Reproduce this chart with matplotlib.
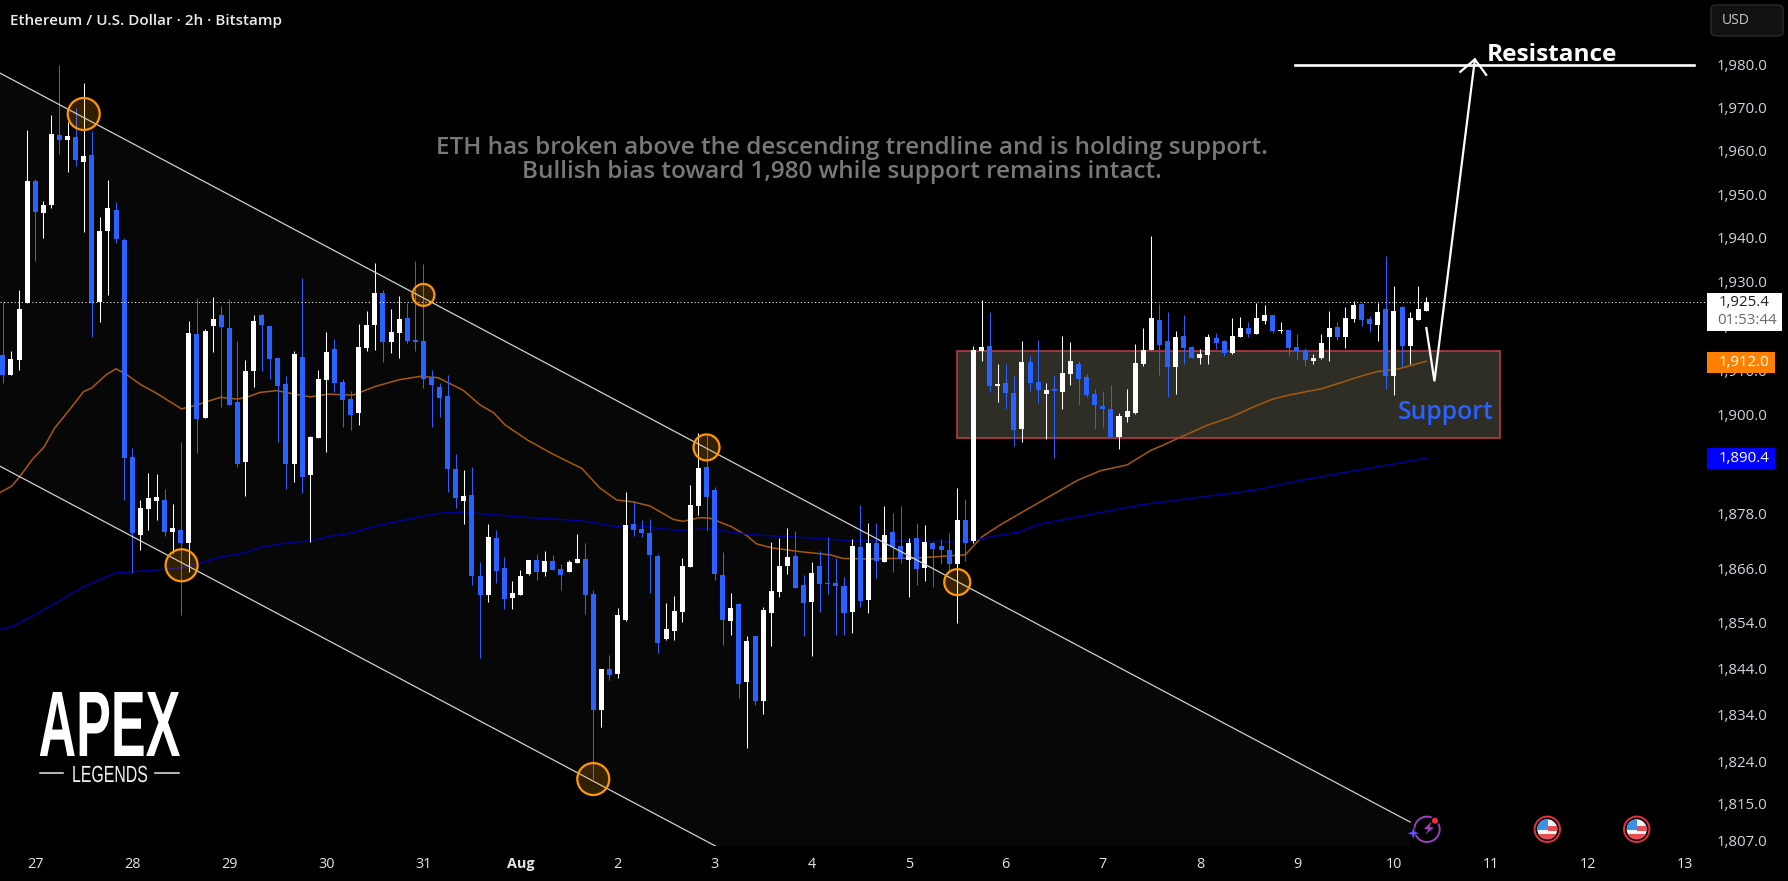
import numpy as np
import matplotlib
matplotlib.use('Agg')
import matplotlib.pyplot as plt
import matplotlib.patheffects as pe
from matplotlib.patches import Circle, Rectangle, Polygon, FancyBboxPatch
from matplotlib.transforms import Affine2D

# ETH/USD 2h candles
opens = [1913.5,1909,1912.3,1925.2,1953,1945.7,1947.6,1963.7,1962.5,1963.2,
         1957.4,1959,1925.3,1941.6,1946.4,1939.6,1890.5,1873.2,1879,1880.8,
         1881,1874,1874.4,1871.5,1918.2,1899.3,1920,1922.5,1919.5,1902.9,
         1889.4,1909.9,1922.5,1920,1912.8,1906.9,1889,1913,1886.5,1894.8,
         1907.8,1914.8,1907.3,1903.5,1900.4,1915,1920.2,1927.5,1916.4,1918.4,
         1921.8,1916.8,1916.6,1908.4,1906.2,1904.2,1887.8,1880.8,1882.1,1864.2,
         1860.1,1872.7,1866,1859.4,1860.1,1864.7,1867.8,1865.1,1867.6,1865.8,
         1865.1,1867.1,1868,1860.3,1835.1,1843.9,1842.9,1854.6,1875.7,1874.6,
         1873.7,1868.7,1850.5,1852.2,1856.4,1866.2,1879.7,1888.3,1883.2,1864.5,
         1854.4,1858.1,1841.1,1851.1,1837.1,1856.1,1860.8,1866.5,1868.7,1862.2,
         1858.5,1866.5,1862.8,1862.8,1862,1856.4,1870.7,1859,1871.5,1867.3,
         1873.9,1870.9,1867.8,1872.6,1866,1871.5,1870.9,1870,1866.9,1876.6,
         1872,1914.4,1915.5,1906.4,1907.1,1904.9,1896.8,1911.9,1907.3,1904.6,
         1905.8,1905.1,1909.2,1911.4,1908.4,1904.6,1901.9,1901.3,1895,1899.5,
         1900.4,1911.4,1914.6,1921.3,1916.6,1910.7,1917.7,1915.3,1912.8,1913.5,
         1917.2,1916.6,1913.9,1917.5,1919.5,1918.2,1921.1,1922.5,1918.9,1919.1,
         1915.3,1914.6,1912.1,1912.8,1917.5,1919.8,1917.5,1921.6,1925,1921.6,
         1920.2,1923.9,1908.7,1924.3,1915.5,1921.3,1923.4]
closes = [1908.8,1912.6,1923.9,1953,1945.9,1947.6,1963.9,1962.5,1963.4,1957.9,
          1958.8,1925.2,1941.6,1946.9,1939.8,1890.4,1873.7,1879.2,1881.4,1881.6,
          1874,1874.8,1871.5,1918.4,1899,1918.9,1921.6,1919.8,1902.2,1889,
          1909.9,1921.1,1920.2,1912.5,1906.4,1889,1913.7,1886,1895,1908,
          1914.1,1907.1,1903.3,1899.9,1915.3,1920.2,1927.5,1916.4,1918.6,1921.6,
          1916.6,1916.4,1908,1906.6,1903.8,1887.8,1881.4,1881.9,1864.2,1860.1,
          1872.9,1865.4,1859.2,1860.5,1864.2,1867.8,1865.1,1867.6,1865.6,1864.5,
          1867.3,1868,1860.1,1835.1,1843.9,1842.7,1855.7,1875.5,1874.4,1873.7,
          1868.9,1849.6,1852.6,1856.6,1866.5,1879.9,1888,1881.7,1864.7,1854.6,
          1857.3,1840.7,1850,1836.9,1856.8,1861,1866.5,1868.5,1861.6,1858.3,
          1864.9,1862.5,1862.5,1862,1856.1,1870.9,1858.8,1871.5,1867.6,1873.3,
          1870.7,1868,1871.5,1865.8,1871.7,1870.2,1870,1866.9,1876.6,1871.5,
          1914.6,1915.3,1906.4,1906.9,1904.9,1896.5,1911.9,1907.1,1905.5,1905.5,
          1905.3,1909.4,1912.1,1908,1904.4,1902.2,1901.3,1895,1899.7,1900.8,
          1911.6,1914.6,1921.8,1915.7,1910.7,1917.5,1915,1912.8,1913.7,1917.5,
          1916.2,1913.9,1917.7,1919.5,1918.2,1921.8,1922.5,1918.9,1919.1,1915,
          1914.4,1912.3,1912.8,1916.2,1919.5,1917.5,1921.8,1924.8,1921.3,1920.4,
          1923.2,1908.7,1923.4,1915.5,1921.8,1923.7,1925.4]
highs = [1925.5,1914.4,1928,1964.8,1953.5,1948.5,1968.3,1979.9,1966.7,1969.9,
         1975.7,1964.6,1944.8,1953.3,1948.2,1939.9,1892.5,1881,1887.1,1886.8,
         1883.4,1880.1,1893.9,1921.1,1926.4,1919.3,1926.6,1924.5,1926.1,1916.6,
         1912.3,1922.5,1922.7,1920,1912.8,1908.7,1914.4,1930.9,1895.2,1910.1,
         1918.6,1917,1908,1905.3,1920.4,1923.4,1934.3,1928,1923.9,1926.8,
         1925.2,1934.8,1934.1,1910.1,1907.2,1909,1891.2,1887.6,1888.3,1867.3,
         1875.7,1874.4,1868.4,1863.2,1865.6,1867.8,1869.1,1869.8,1868.9,1866.9,
         1867.8,1873.5,1871.5,1861.2,1843.9,1847,1857.3,1882.8,1880.6,1876.6,
         1876.8,1869.1,1858.3,1859.9,1868.2,1884.3,1895.9,1895.5,1883.8,1869.6,
         1860.5,1858.3,1851.1,1851.1,1857.5,1871.7,1872.6,1874.8,1874.2,1864.5,
         1867.3,1869.8,1872.9,1868.2,1864,1872.4,1879.9,1875.9,1875.9,1879.7,
         1878.1,1879.7,1872.6,1875.9,1875.5,1871.7,1872.4,1873.7,1883.6,1881.2,
         1915.5,1925.9,1923.2,1911.4,1911.4,1908.7,1916.6,1913.2,1916.8,1907.1,
         1909,1917.7,1916.4,1912.1,1909.2,1905.8,1905.3,1906.6,1900.4,1905.8,
         1915.9,1919.5,1940.5,1925,1923.2,1918.9,1922.5,1915.5,1914.8,1918.2,
         1918.4,1916.8,1921.8,1922,1920.9,1925.2,1924.8,1922.5,1920.9,1919.1,
         1918.2,1915,1913.7,1918.2,1923.4,1920.9,1924.3,1925.7,1925.2,1922.3,
         1925.2,1935.9,1929.1,1924.5,1923.2,1929.1,1926.6]
lows = [1907.2,1909,1910.1,1925.2,1934.6,1939.9,1946.9,1959.3,1955.1,1956.5,
        1941.4,1917.5,1920.9,1927,1938.9,1881,1865,1870,1874.4,1876.6,
        1873,1869.3,1855.7,1865.2,1891.4,1899.3,1914.1,1901.7,1902.2,1888.3,
        1881.9,1906.2,1909.7,1908,1893.9,1883.4,1885,1882.6,1871.7,1894.8,
        1891.7,1905.1,1897.2,1896.5,1897.7,1914.4,1914.6,1911.9,1913.9,1912.8,
        1916,1914.4,1906,1897.2,1899.5,1882.8,1879.2,1875.7,1862.2,1846.4,
        1858.6,1862.8,1857,1857,1860.1,1864.5,1863.4,1864.2,1865.6,1861.2,
        1865.1,1867.1,1855.9,1820.2,1831.4,1841.6,1842,1854.4,1873.1,1872.9,
        1860.5,1847.4,1850.3,1850.3,1854.2,1866.2,1877.7,1874.4,1863.4,1849.1,
        1851.3,1837.7,1826.9,1836.2,1834.1,1849,1859.7,1864.7,1861.6,1851.1,
        1846.8,1856.4,1860.3,1851.3,1851.3,1851.7,1857.5,1856.1,1863.8,1867.3,
        1865.1,1867.1,1859.7,1862.2,1863.2,1861.8,1866.9,1865.6,1853.9,1867.6,
        1871.5,1912.1,1905.1,1902.9,1901.3,1893,1893.9,1905.3,1902.6,1894.5,
        1890.3,1901.3,1906.6,1902.2,1904,1896.8,1897.2,1895,1892.3,1898.3,
        1900.1,1911,1914.6,1909,1904,1904.6,1911.4,1912.8,1911.4,1911.4,
        1914.8,1913.2,1913.7,1917.5,1917.5,1918.2,1920.4,1918.4,1918.4,1913.2,
        1912.3,1911,1911.4,1912.6,1912.1,1916.8,1915,1920.9,1920,1918.7,
        1916.6,1905.8,1904.4,1911,1911.4,1921.3,1923.4]

# moving averages, (candle index, price) along the curve
ema_fast_x = [-0.4,1.1,2.1,3.6,5.1,6.4,8.1,10,11,12.8,14,15.3,17,19,22.1,24,25.2,26.9,29,30.3,
              31.8,33.9,35.5,38,40.2,43.3,46,48.9,51.6,53.8,56.9,59,60.7,62.1,64.9,67.8,71.6,73.8,75.9,77.9,
              80,82.9,84.1,86.2,87.4,90.1,92,93.2,95.2,98.6,102.3,103.9,106.9,113,119,121,123.3,132.9,135.7,139,
              141.9,143.7,145.5,149,151.9,154.7,157,159,163,165.8,168,170,172.6,176]
ema_fast = [1882.6,1884.1,1886.2,1889.9,1892.8,1897,1900.8,1905.2,1906,1909,1910.3,1909,1906.8,1904.8,1901.3,1902.2,1902.9,1903.9,1903.5,1904,
            1905,1905.4,1904.8,1904,1904.6,1904.4,1906.3,1907.8,1908.6,1908.3,1905.5,1902.2,1900.4,1897.7,1894.3,1891.4,1888,1883.7,1881,1880.6,
            1879.7,1876.7,1876.3,1877.1,1877,1875.1,1873.1,1871.3,1870.4,1869.6,1868.9,1868.1,1868,1868.2,1868.9,1872.8,1875.5,1885.4,1887.5,1888.8,
            1892,1893.4,1894.9,1897.7,1899.5,1901.8,1903.5,1904.4,1905.8,1907.4,1908.7,1909.7,1910.3,1912]
ema_slow_x = [-0.4,1.2,4.4,10,13.9,17.8,21.9,24.4,27.1,29.3,32.2,35.5,38,40.8,43.3,46.2,51.6,54,57.1,60.2,
              64.4,71.6,75.9,78.4,83.3,87,92.8,98.2,105.1,118.3,120.8,125.8,128,140.6,154.7,160.5,176]
ema_slow = [1852.5,1853.2,1856.2,1861.9,1864.9,1865.4,1866,1867.1,1868.5,1869.1,1870.7,1871.6,1872,1873.1,1873.8,1875.3,1877.3,1878.1,1878.3,1877.8,
            1877.2,1876.4,1875.1,1875.3,1874.3,1874.6,1873.3,1872.8,1872,1871.8,1872.4,1874,1875.6,1879.9,1883.2,1885.4,1890.3]

price_ticks = [1980,1970,1960,1950,1940,1930,1920,1910,1900,1890,1878,1866,1854,1844,1834,1824,1815,1807]
day_labels = ['27','28','29','30','31','Aug','2','3','4','5','6','7','8','9','10','11','12','13']
day_idx = [4 + 12*k for k in range(len(day_labels))]

# touches of the channel
touch_x = [10,52,22.1,73,87,118]
touch_y = [1968.5,1927,1866.6,1820.2,1892.7,1862.9]
touch_size = [530,250,530,530,350,350]

upper_x = [-0.35,174]
upper_y = [1978,1811]
lower_x = [-0.35,88.1]
lower_y = [1888.5,1805.9]
support_x = [118,185.1]
support_y = [1894.9,1914.3]
last_price = 1925.4
resistance = 1980
path_x = [176,177,182]
path_y = [1919.5,1907.5,1981.2]
head_x = [180.2,182,183.4]
head_y = [1978.3,1981.2,1977.6]

W, H = 1788, 881
UP = '#ffffff'
DOWN = '#2962ff'
FONT = 'Open Sans'
plt.rcParams['font.family'] = [FONT, 'DejaVu Sans']

# squeezes a text sideways, the logo lettering is far narrower than any font here
class Squeeze(pe.AbstractPathEffect):
    def __init__(self, sx, x0):
        super().__init__()
        self.sx, self.x0 = sx, x0
    def draw_path(self, renderer, gc, tpath, affine, rgbFace=None):
        squeeze = Affine2D().translate(-self.x0, 0).scale(self.sx, 1).translate(self.x0, 0)
        renderer.draw_path(gc, tpath, affine + squeeze, rgbFace)

fig = plt.figure(figsize=(W/100, H/100), dpi=100, facecolor='black')
ax = fig.add_axes([0, 1-846/H, 1707/W, 846/H])
ax.set_facecolor('black')
ax.set_yscale('log')
ax.set_xlim(-0.352, 210.7)
ax.set_ylim(1805.9, 1995.1)
for s in ax.spines.values():
    s.set_visible(False)

x = np.arange(len(opens))
opens = np.array(opens); closes = np.array(closes)
highs = np.array(highs); lows = np.array(lows)
colors = np.where(closes >= opens, UP, DOWN)

# channel fill and support box, under everything
ax.fill([upper_x[0], upper_x[1], upper_x[1], lower_x[1], lower_x[0]],
        [upper_y[0], upper_y[1], lower_y[1], lower_y[1], lower_y[0]],
        color='#070707', lw=0, zorder=1)
ax.add_patch(Rectangle((support_x[0], support_y[0]), support_x[1]-support_x[0], support_y[1]-support_y[0],
                       facecolor='#2e2d26', edgecolor='#c63c46', lw=1.1, zorder=1.5))

ax.plot(ema_fast_x, ema_fast, color='#a85a08', lw=1.1, zorder=2)
ax.plot(ema_slow_x, ema_slow, color='#000099', lw=1.1, zorder=2)

ax.vlines(x, lows, highs, colors=colors, lw=0.75, zorder=3)
ax.bar(x, np.maximum(np.abs(closes-opens), 0.25), bottom=np.minimum(opens, closes), width=0.62,
       color=colors, lw=0, zorder=3.1)

ax.plot(upper_x, upper_y, color='#d0d0d0', lw=0.9, zorder=4)
ax.plot(lower_x, lower_y, color='#d0d0d0', lw=0.9, zorder=4)
ax.axhline(last_price, color='white', lw=0.75, ls=(0, (1, 2.4)), zorder=4)

ax.scatter(touch_x, touch_y, s=touch_size, facecolor=(1, 0.6, 0, 0.2), edgecolor='#ff9800', lw=1.6, zorder=5)

ax.plot([159.8, 209.1], [resistance, resistance], color='white', lw=1.9, zorder=6)
ax.plot(path_x, path_y, color='white', lw=1.6, zorder=6, solid_joinstyle='miter')
ax.plot(head_x, head_y, color='white', lw=1.6, zorder=6)

ax.text(172.5, 1900.4, 'Support', color=DOWN, fontsize=17.8, va='center', zorder=7, weight='semibold')
ax.text(183.5, 1982.3, 'Resistance', color='white', fontsize=17.6, va='center', weight='bold', zorder=7)

# price and time axes
ax.set_yticks(price_ticks)
ax.set_yticklabels(['{:,.1f}'.format(p) for p in price_ticks])
ax.minorticks_off()
ax.yaxis.tick_right()
ax.tick_params(axis='y', length=0, pad=7.2, labelsize=10.8, labelcolor='#d1d4dc')
ax.set_xticks(day_idx)
ax.set_xticklabels(day_labels)
ax.tick_params(axis='x', length=0, pad=8, labelsize=10.4, labelcolor='#e6e6e6')
ax.get_xticklabels()[5].set_fontweight('bold')

def px(xp, yp):
    return xp/W, 1-yp/H

# annotation text
fig.text(*px(852, 154), 'ETH has broken above the descending trendline and is holding support.',
         color='#787878', fontsize=17.5, weight='semibold', ha='center', va='baseline')
fig.text(*px(841.6, 178.3), 'Bullish bias toward 1,980 while support remains intact.',
         color='#787878', fontsize=17.5, weight='semibold', ha='center', va='baseline')
fig.text(*px(10, 20.7), 'Ethereum / U.S. Dollar \u00b7 2h \u00b7 Bitstamp', color='#ececec', fontsize=11,
         weight='semibold', va='center')

# price tags
def tag(y0, y1, x1, color):
    fig.add_artist(Rectangle(px(1707, y1), (x1-1707)/W, (y1-y0)/H, transform=fig.transFigure,
                             facecolor=color, edgecolor='none', zorder=5))
tag(293, 331, 1781.7, 'white')
tag(352, 373, 1775, '#ff7f00')
tag(448.3, 469, 1775, '#0000ff')
fig.text(*px(1718.5, 303), '1,925.4', color='#202020', fontsize=10.8, va='center', zorder=6)
fig.text(*px(1717, 320), '01:53:44', color='#6a6a6a', fontsize=10.8, va='center', zorder=6)
fig.text(*px(1718.5, 362.5), '1,912.0', color='white', fontsize=10.8, va='center', zorder=6)
fig.text(*px(1718.5, 458.5), '1,890.4', color='white', fontsize=10.8, va='center', zorder=6)

fig.add_artist(FancyBboxPatch(px(1711, 36), 72/W, 31/H, boxstyle='round,pad=0,rounding_size=0.004',
                              transform=fig.transFigure, facecolor='#111111', edgecolor='#2a2a2a', lw=1, zorder=5))
fig.text(*px(1722, 21), 'USD', color='#c8c8c8', fontsize=10, va='center', zorder=6)

# logo
fig.text(*px(38.5, 756), 'APEX', color='white', fontsize=67, weight='bold', family='Liberation Sans', va='baseline',
         path_effects=[Squeeze(0.56, 38.5)])
fig.text(*px(72, 782), 'LEGENDS', color='#f2f2f2', fontsize=16.8, family='Liberation Sans', va='baseline',
         path_effects=[Squeeze(0.68, 72)])
for a, b in [(39.5, 63), (155, 179)]:
    fig.add_artist(plt.Line2D([a/W, b/W], [1-773/H]*2, color='#e8e8e8', lw=1.1))

# little event markers at the bottom, in pixels from the top left
to_px = Affine2D().scale(1, -1).translate(0, H)
def add(art):
    art.set_transform(to_px)
    art.set_clip_on(False)
    ax.add_artist(art)
    art.set_zorder(8)
    return art

add(Circle((1427, 829.3), 12.7, facecolor='black', edgecolor='#9c3fc0', lw=1.4))
add(Polygon([(1432, 821), (1424, 829), (1428.5, 829.5), (1425, 835), (1434, 827.5), (1429.5, 827)],
            closed=True, facecolor='#9c3fc0', edgecolor='none'))
add(Circle((1435, 820.7), 4.5, facecolor='black', edgecolor='none'))
add(Circle((1435, 820.7), 3, facecolor='#f0303c', edgecolor='none'))
add(Polygon([(1413.3, 826.5), (1415, 831.5), (1420, 833.3), (1415, 835), (1413.3, 840), (1411.6, 835), (1406.6, 833.3), (1411.6, 831.5)],
            closed=True, facecolor='#6a4cff', edgecolor='black', lw=0.5))
for cx in [1547.3, 1636.7]:
    cy = 829.3
    add(Circle((cx, cy), 12.7, facecolor='black', edgecolor='#e5303f', lw=1.4))
    disc = add(Circle((cx, cy), 10, facecolor='#f4f4f4', edgecolor='none'))
    for rx, ry, rw, rh, c in [(cx-10, cy-10, 10.5, 10.5, '#3d8fe8'), (cx+0.5, cy-3, 10, 4.5, '#ea4a50'),
                              (cx-10, cy+5, 20, 5, '#ea4a50')]:
        r = add(Rectangle((rx, ry), rw, rh, facecolor=c, edgecolor='none'))
        r.set_clip_on(True)
        r.set_clip_path(disc)

fig.savefig('out.png', dpi=100, facecolor='black')
